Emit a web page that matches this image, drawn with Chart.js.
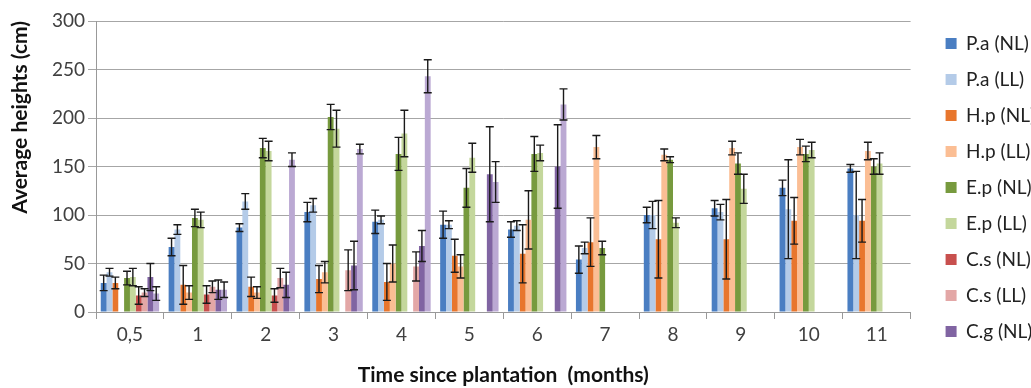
<!DOCTYPE html>
<html>
<head>
<meta charset="utf-8">
<script src="https://cdn.jsdelivr.net/npm/chart.js@4.4.1/dist/chart.umd.min.js"></script>
<style>
  html, body { margin: 0; padding: 0; background: #fff; overflow: hidden; }
  #wrap { width: 1031px; height: 388px; position: relative; }
</style>
</head>
<body>
<div id="wrap"><canvas id="chart"></canvas></div>
<script>
const months = ['0,5', '1', '2', '3', '4', '5', '6', '7', '8', '9', '10', '11'];

const paNL    = [30, 67, 87, 103, 93, 90, 85, 54, 100, 107, 128, 148];
const paNLerr = [8, 9, 4, 10, 12, 14, 8, 14, 8, 8, 8, 4];
const paLL    = [41, 85, 114, 110, 95, 90, 89, 66, 100, 103, 106, 100];
const paLLerr = [4, 5, 8, 7, 4, 4, 5, 6, 14, 8, 51, 45];
const hpNL    = [30, 28, 26, 34, 31, 58, 60, 72, 75, 75, 94, 94];
const hpNLerr = [6, 20, 10, 14, 19, 17, 30, 25, 40, 41, 24, 22];
const hpLL    = [null, 20, 20, 41, 50, 47, 95, 170, 162, 169, 170, 166];
const hpLLerr = [0, 7, 6, 11, 19, 12, 30, 12, 6, 7, 8, 9];
const epNL    = [35, 97, 169, 201, 163, 128, 163, 66, 157, 153, 163, 150];
const epNLerr = [7, 9, 10, 13, 17, 20, 18, 7, 3, 11, 8, 8];
const epLL    = [36, 95, 166, 189, 184, 159, 164, null, 92, 127, 167, 153];
const epLLerr = [9, 8, 10, 19, 24, 15, 8, 0, 5, 15, 8, 11];
const csNL    = [17, 18, 17, null, null, null, null, null, null, null, null, null];
const csNLerr = [9, 9, 7, 0, 0, 0, 0, 0, 0, 0, 0, 0];
const csLL    = [20, 26, 35, 43, 47, null, null, null, null, null, null, null];
const csLLerr = [4, 6, 10, 21, 15, 0, 0, 0, 0, 0, 0, 0];
const cgNL    = [36, 23, 28, 48, 68, 142, 150, null, null, null, null, null];
const cgNLerr = [14, 10, 13, 25, 16, 49, 43, 0, 0, 0, 0, 0];
const cgLL    = [19, 23, 157, 168, 243, 134, 214, null, null, null, null, null];
const cgLLerr = [7, 8, 7, 5, 17, 21, 16, 0, 0, 0, 0, 0];

const seriesNames = ['P.a (NL)', 'P.a (LL)', 'H.p (NL)', 'H.p (LL)', 'E.p (NL)', 'E.p (LL)',
                     'C.s (NL)', 'C.s (LL)', 'C.g (NL)', 'C.g (LL)'];
const seriesData = [paNL, paLL, hpNL, hpLL, epNL, epLL, csNL, csLL, cgNL, cgLL];
const seriesErr = [paNLerr, paLLerr, hpNLerr, hpLLerr, epNLerr, epLLerr, csNLerr, csLLerr, cgNLerr, cgLLerr];
const seriesColors = ['#4a7ec2', '#b4cbe8', '#e8762d', '#fbbe94', '#779a3e',
                      '#c4d79c', '#c8504e', '#e3a7a6', '#8064a2', '#bba9d3'];

const FONT = 'Lato, "Open Sans", sans-serif';

// barres d'erreur dessinées après les barres
const errorBars = {
  id: 'errorBars',
  afterDatasetsDraw(chart) {
    const ctx = chart.ctx;
    const y = chart.scales.y;
    ctx.save();
    ctx.strokeStyle = '#1a1a1a';
    ctx.lineWidth = 1.4;
    chart.data.datasets.forEach((ds, di) => {
      const meta = chart.getDatasetMeta(di);
      meta.data.forEach((bar, i) => {
        const v = ds.data[i];
        const e = seriesErr[di][i];
        if (v == null || !e) return;
        const x = bar.x;
        const top = y.getPixelForValue(v + e);
        const bot = y.getPixelForValue(v - e);
        ctx.beginPath();
        ctx.moveTo(x, top); ctx.lineTo(x, bot);
        ctx.moveTo(x - 4, top); ctx.lineTo(x + 4, top);
        ctx.moveTo(x - 4, bot); ctx.lineTo(x + 4, bot);
        ctx.stroke();
      });
    });
    ctx.restore();
  }
};

// décale un peu la légende vers la droite / le haut
const legendShift = {
  id: 'legendShift',
  afterLayout(chart) {
    const lg = chart.legend;
    lg.left += 18; lg.right += 18;
    lg.top -= 4; lg.bottom -= 4;
  }
};

new Chart(document.getElementById('chart'), {
  type: 'bar',
  data: {
    labels: months,
    datasets: seriesNames.map((name, i) => ({
      label: name,
      data: seriesData[i],
      backgroundColor: seriesColors[i],
      borderWidth: 0,
      barPercentage: 1,
      categoryPercentage: 0.86
    }))
  },
  options: {
    responsive: true,
    maintainAspectRatio: false,
    animation: false,
    layout: { padding: { top: 21, left: 4, right: 4, bottom: 0 } },
    plugins: {
      legend: {
        position: 'right',
        align: 'start',
        labels: {
          font: { family: FONT, size: 19 },
          color: '#222',
          boxWidth: 11,
          boxHeight: 11,
          padding: 17,
          filter: item => item.datasetIndex < 9
        }
      },
      tooltip: { enabled: false }
    },
    scales: {
      x: {
        afterFit: s => { s.height = 76; },
        grid: { display: true, drawOnChartArea: false, offset: true, color: '#999', tickLength: 7 },
        border: { color: '#999' },
        ticks: { font: { family: FONT, size: 19 }, color: '#404040', padding: 4 },
        title: {
          display: true,
          text: 'Time since plantation  (months)',
          font: { family: FONT, size: 21, weight: 'bold' },
          color: '#111',
          padding: { top: 4, bottom: 0 }
        }
      },
      y: {
        min: 0, max: 300,
        afterFit: s => { s.width = 92; },
        ticks: { stepSize: 50, font: { family: FONT, size: 19 }, color: '#404040', padding: 3 },
        grid: { color: '#a6a6a6', tickLength: 8 },
        border: { color: '#999' },
        title: {
          display: true,
          align: 'end',
          text: 'Average heights (cm)',
          font: { family: FONT, size: 21, weight: 'bold' },
          color: '#111'
        }
      }
    }
  },
  plugins: [errorBars, legendShift]
});
</script>
</body>
</html>
